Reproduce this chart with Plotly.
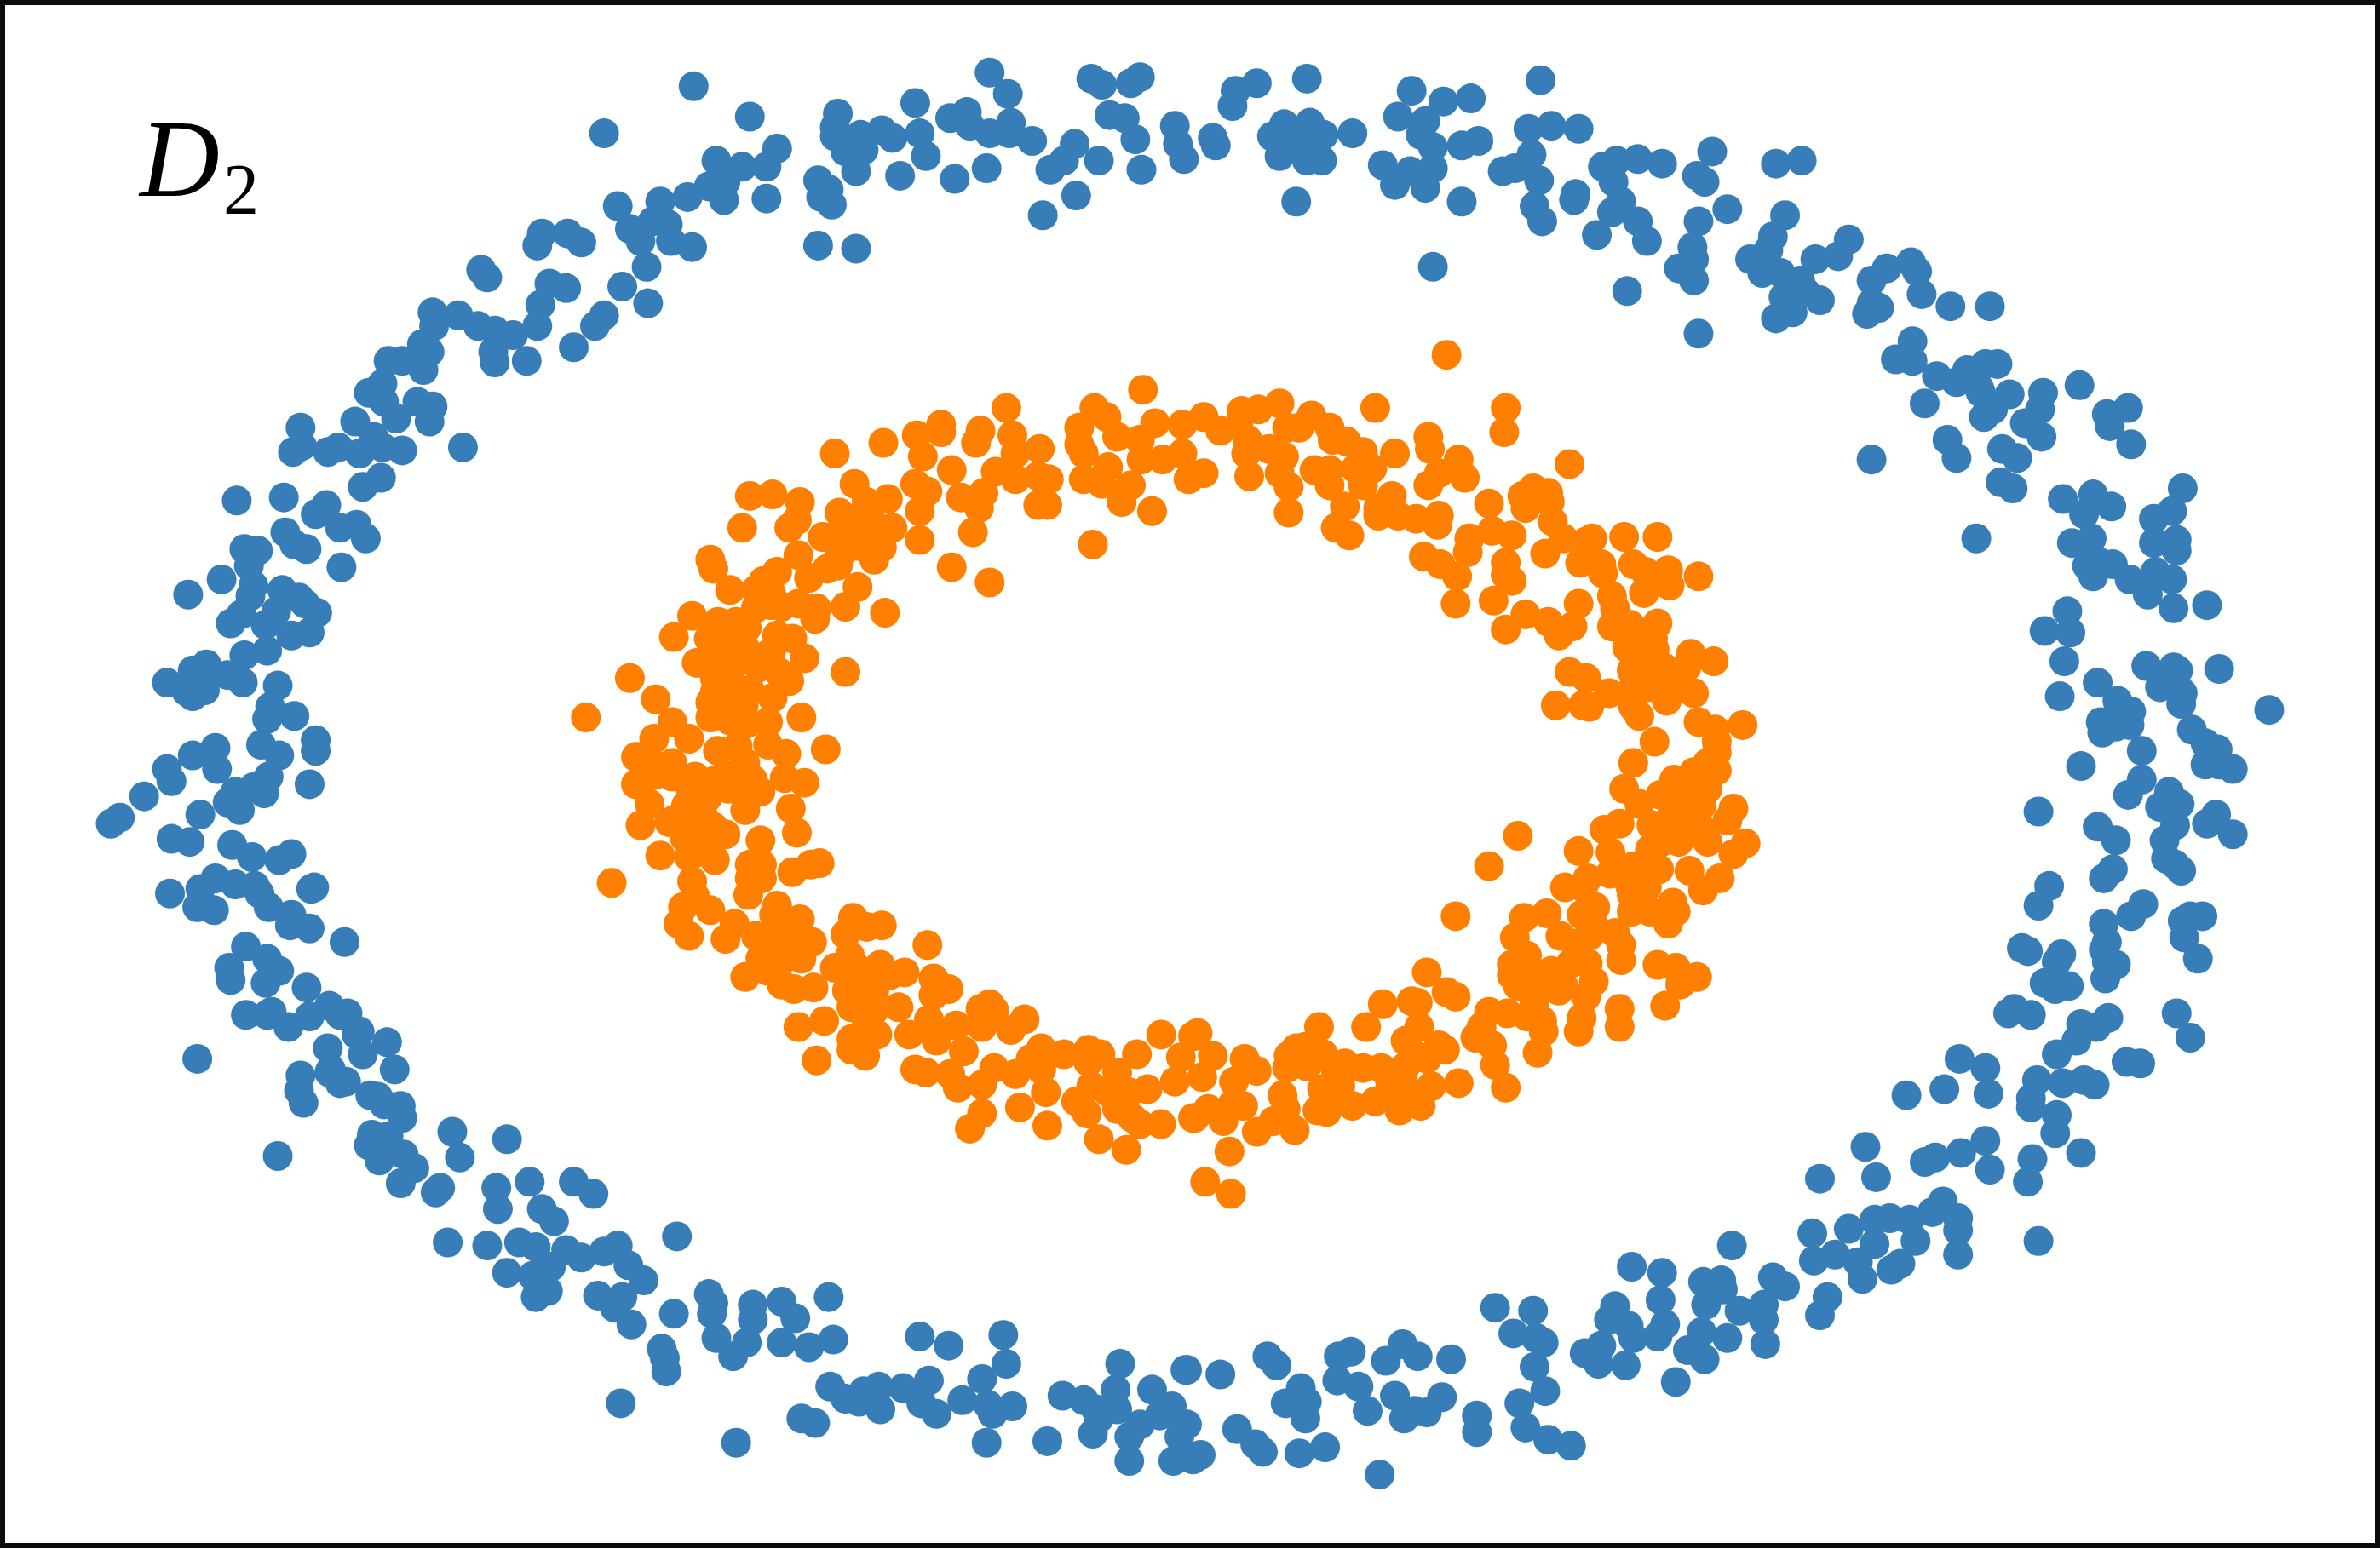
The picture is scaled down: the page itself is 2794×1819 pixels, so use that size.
import plotly.graph_objects as go

# points, in units of the 1568x1021 view (y grows downwards)
blue_points = [
    (457,57),(494,77),(398,88),(552,75),(550,84),(512,98),(505,110),(489,110),(472,106),(467,123),
    (478,120),(477,132),(505,131),(539,119),(546,125),(541,130),(548,135),(453,130),(435,133),(407,136),
    (430,146),(440,148),(415,151),(422,159),(442,159),(456,163),(539,162),(357,154),(354,162),(374,154),
    (383,160),(426,176),(317,178),(321,183),(410,189),(427,200),(362,187),(373,190),(356,201),(398,208),
    (392,215),(354,215),(285,206),(302,208),(286,215),(315,215),(326,218),(338,221),(278,227),(378,229),
    (325,232),(326,239),(347,238),(256,238),(265,238),(283,232),(279,244),(252,253),(243,259),(253,265),
    (275,265),(285,268),(283,278),(261,276),(234,278),(246,288),(198,282),(193,298),(199,294),(216,298),
    (223,295),(237,299),(252,295),(265,297),(305,295),(251,315),(239,321),(156,330),(187,328),(215,333),
    (208,339),(235,346),(224,348),(241,355),(188,351),(161,362),(170,363),(194,359),(202,362),
    (564,164),(652,48),(664,62),(603,68),(567,89),(550,90),(557,100),(569,99),(581,86),(588,91),(564,113),
    (606,88),(610,103),(593,116),(626,78),(637,74),(639,83),(652,88),(666,81),(665,88),(680,93),(629,118),
    (650,111),(708,95),(701,106),(692,112),(724,106),(709,129),(687,142),(719,52),(726,56),(745,55),(751,51),
    (731,76),(741,78),(748,92),(752,112),(774,83),(776,95),(780,105),(799,91),(801,96),(814,60),(828,55),
    (812,70),(861,52),(846,82),(838,90),(863,81),(854,92),(872,89),(843,103),(861,106),(863,101),(871,106),
    (891,88),(854,133),(930,60),(951,67),(969,65),(921,77),(939,80),(936,89),(944,97),(963,96),(974,93),
    (911,109),(929,113),(944,111),(919,122),(939,124),(963,133),(1015,53),(1007,85),(1022,83),(1040,85),
    (1009,102),(990,113),(998,111),(1014,119),(1011,136),(1016,146),(944,176),(1038,128),(1037,132),
    (1056,110),(1065,106),(1063,120),(1062,140),(1052,155),(1079,105),(1095,108),(1128,100),(1170,108),
    (1187,106),(1118,116),(1123,120),(1068,133),(1079,146),(1085,159),(1119,146),(1138,138),(1176,142),
    (1168,156),(1115,163),(1116,171),(1106,177),(1116,185),(1072,192),(1153,171),(1165,165),(1161,180),
    (1173,180),(1186,185),(1175,196),(1190,193),(1199,198),(1181,206),(1170,210),(1196,171),(1211,169),
    (1218,158),(1243,177),(1233,185),(1259,173),(1263,179),(1266,194),(1285,202),(1311,202),(1238,203),
    (1233,200),(1230,207),(1119,220),(1260,225),(1249,237),(1260,238),(1276,248),(1289,252),(1296,244),
    (1308,240),(1316,240),(1304,256),(1305,259),(1324,260),(1346,259),(1370,254),(1344,270),(1307,275),
    (1313,270),(1268,266),(1334,279),(1345,288),(1388,273),(1402,269),(1390,281),(1404,293),(1283,290),
    (1289,302),(1319,296),(1329,302),(1318,318),(1326,322),(1233,303),(1359,329),(1379,326),(1373,339),
    (1391,334),(1438,322),(1419,342),(1431,337),(1302,355),(1365,358),(1378,355),(1419,358),(1434,356),
    (1434,363),(1377,366),(1392,372),(1375,373),(1379,380),(1384,371),(1403,382),(1415,392),(1420,377),
    (1431,382),(1432,401),(1454,399),(1362,403),(1347,416),(1364,417),(1360,436),(1357,459),(1382,450),
    (1395,462),(1404,469),(1384,476),(1385,483),(1394,479),(1403,478),(1411,495),(1371,505),(1414,439),
    (1432,440),(1435,442),(1423,453),(1438,457),(1437,464),(1462,441),(1495,468),(1444,481),(1453,490),
    (1461,494),(1453,504),(1462,504),(1471,507),(1411,514),(1402,524),(1343,535),(1429,522),(1436,530),
    (1423,532),(1433,544),(1426,554),(1460,537),(1454,543),(1471,550),(1382,545),(1394,554),(1392,573),
    (1386,579),(1427,566),(1433,570),(1437,574),(1350,584),(1343,597),(1412,596),(1404,604),(1386,609),
    (1438,607),(1443,604),(1451,604),(1439,618),(1448,632),(1332,625),(1336,627),(1358,629),(1355,634),
    (1388,621),(1386,626),(1388,634),(1394,636),(1387,645),(1347,648),(1354,652),(1363,650),(1323,668),
    (1327,665),(1338,669),(1434,668),(1443,684),(1371,675),(1381,677),(1389,671),(1368,686),(1355,695),
    (1401,700),(1410,701),(1291,698),(1308,704),(1342,712),(1359,714),(1373,712),(1380,715),(1256,722),
    (1281,718),(1310,721),(1338,724),(1338,730),(1355,735),(1354,747),(1371,760),(1339,764),(1336,779),
    (1308,752),(1292,760),(1275,763),(1268,766),(1311,771),(1229,756),(1236,776),(1199,777),(1280,792),
    (1273,799),(1290,803),(1290,811),(1290,827),(1343,818),(1262,818),(1258,804),(1245,803),(1235,804),
    (1218,810),(1194,813),(1235,820),(1209,827),(1195,831),(1224,832),(1252,833),(1246,837),(1227,843),
    (1141,821),(1075,835),(1095,839),(1122,845),(1134,844),(1135,850),(1168,842),(1176,848),(1204,855),
    (1199,867),(985,862),(1010,864),(1064,861),(1094,857),(1124,860),(1162,860),(1146,864),(1162,870),
    (1060,870),(1073,874),(1097,873),(1076,882),(1092,881),(997,879),(1012,882),(1017,885),(1121,878),
    (1138,882),(1163,886),(1112,890),(1123,896),(1044,892),(1055,887),(1053,899),(1071,900),(1011,901),
    (1104,911),(1018,917),(1001,925),(1005,941),(1020,949),(1035,953),(973,933),(973,944),(956,896),
    (934,894),(924,886),(913,897),(890,891),(882,894),(835,894),(841,900),(804,906),(782,903),(881,910),
    (895,914),(857,915),(861,924),(847,925),(860,935),(901,930),(919,920),(950,921),(932,930),(925,935),
    (940,931),(815,942),(827,952),(832,957),(856,958),(873,954),(791,959),(782,939),(909,972),
    (130,698),(216,691),(255,687),(239,695),(235,682),(260,705),(198,709),(217,707),(228,713),(197,719),
    (200,727),(244,722),(253,728),(264,729),(265,737),(245,748),(298,746),(334,751),(256,749),(243,755),
    (266,761),(250,765),(303,763),(273,770),(183,762),(264,780),(290,783),(287,786),(327,783),(349,779),
    (378,779),(391,787),(328,797),(357,797),(365,805),(295,819),(321,821),(342,819),(446,815),(353,822),
    (373,824),(383,829),(407,821),(398,825),(414,834),(424,844),(334,839),(351,841),(363,835),(361,851),
    (353,855),(394,854),(410,855),(405,862),(416,873),(444,866),(467,853),(470,859),(469,866),(496,860),
    (496,870),(515,858),(524,869),(546,855),(472,882),(492,885),(483,894),(515,885),(533,888),(549,883),
    (436,889),(438,895),(439,904),(606,881),(625,887),(661,880),(663,899),(738,899),(781,903),(409,925),
    (547,914),(557,922),(569,917),(579,914),(580,929),(566,924),(595,915),(612,910),(607,925),(617,932),
    (634,923),(647,909),(651,926),(654,932),(667,927),(528,935),(537,938),(485,951),(650,951),(690,950),
    (700,920),(714,923),(722,929),(735,916),(736,929),(724,935),(720,945),(759,916),(744,947),(751,939),
    (744,963),(773,963),(772,927),(764,933),(777,947),(786,962),
    (225,374),(164,373),(146,382),(124,392),(167,386),(165,393),(186,389),(197,394),(201,398),(209,404),
    (182,403),(159,405),(152,411),(175,412),(192,419),(204,417),(176,429),(161,432),(136,438),(127,442),
    (150,445),(160,450),(110,450),(123,456),(127,459),(135,455),(183,452),(178,466),(176,474),(194,472),
    (172,491),(184,498),(208,488),(208,495),(142,493),(127,498),(143,507),(110,507),(113,515),(177,512),
    (167,519),(155,522),(174,523),(204,517),(95,525),(150,529),(158,534),(132,537),(79,539),(73,543),
    (113,553),(125,555),(153,557),(166,565),(184,567),(192,563),(142,579),(132,586),(155,583),(112,589),
    (168,584),(171,589),(207,585),(205,586),(130,598),(141,600),(177,598),(192,603),(191,610),(204,612),
    (227,621),(162,624),(151,638),(152,646),(176,632),(184,640),(175,648),(202,651),(217,663),(229,668),
    (224,669),(179,667),(162,669),(176,669),(190,677),(204,670),(237,680),(218,705),(224,714),(249,723),
]

orange_points = [
    (753,257),(721,269),(729,275),(711,282),(711,293),(714,299),(714,316),(726,319),(730,308),(745,320),
    (739,331),(759,337),(720,359),(761,279),(779,280),(736,288),(751,290),(752,303),(766,303),(779,299),
    (783,316),(663,269),(620,280),(620,285),(604,287),(608,301),(646,284),(643,292),(667,287),(685,296),
    (669,299),(656,311),(669,316),(684,314),(691,316),(684,333),(690,333),(582,292),(550,299),(563,319),
    (627,310),(603,319),(611,324),(633,328),(648,325),(645,335),(641,351),(606,337),(606,356),(585,329),
    (571,331),(553,338),(494,327),(509,326),(527,331),(489,348),(525,343),(520,348),(542,354),(563,346),
    (588,348),(581,361),(576,369),(553,352),(553,367),(526,366),(552,373),(533,381),(512,377),(627,374),
    (652,384),(468,369),(470,375),(481,389),(503,383),(498,389),(508,391),(498,401),(508,399),(526,398),
    (537,408),(538,401),(565,387),(557,400),(583,404),(456,406),(473,410),(444,420),(492,414),(467,421),
    (478,423),(512,419),(522,421),(492,429),(508,430),(530,434),(557,443),(459,437),(471,447),(481,445),
    (513,443),(520,449),(415,447),(432,461),(494,455),(471,456),(509,460),(468,463),(443,476),(468,473),
    (481,475),(492,477),(506,476),(528,473),(431,487),(454,487),(544,494),(419,499),(473,495),(486,492),
    (506,491),(518,497),(443,503),(491,503),(431,504),(386,473),
    (953,234),(793,275),(804,284),(818,271),(829,270),(843,266),(864,274),(876,282),(848,282),(856,282),
    (906,269),(816,281),(822,290),(836,296),(846,301),(821,299),(878,290),(887,291),(898,298),(919,299),
    (866,310),(876,310),(893,309),(904,309),(876,320),(898,320),(823,314),(843,312),(849,321),(849,338),
    (793,312),(886,334),(880,348),(889,353),(992,269),(991,285),(941,288),(942,296),(1034,306),(961,303),
    (948,312),(965,315),(941,320),(917,327),(908,335),(908,340),(921,340),(933,342),(948,340),(947,346),
    (981,332),(1003,327),(1010,322),(1020,325),(1021,331),(1005,335),(1023,344),(968,355),(983,350),
    (996,353),(967,364),(938,367),(949,372),(960,380),(992,371),(992,379),(996,383),(959,398),(984,396),
    (1018,365),(1030,355),(1045,357),(1049,355),(1070,354),(1092,354),(1041,371),(1055,372),(1056,378),
    (1076,372),(1084,377),(1099,376),(1100,386),(1119,380),(1083,391),(1062,393),(1040,398),(1064,401),
    (1005,405),(992,415),(1020,410),(1036,413),(1027,419),(1092,411),(1074,412),(1062,413),(1089,421),
    (1072,427),(1090,428),(1114,431),(1129,436),(1096,440),(1111,440),(1034,443),(1045,447),(1075,442),
    (1060,457),(1025,465),(1043,465),(1047,466),(1074,456),(1086,453),(1098,462),(1116,457),(1080,472),
    (1076,466),(1119,476),(1130,481),(1148,478),(1131,489),(1090,489),(1076,503),(1125,503),(1131,496),
    (419,517),(530,516),(517,513),(431,511),(443,512),(458,512),(478,511),(496,514),(501,522),(486,520),
    (491,534),(521,533),(525,549),(428,530),(422,544),(441,542),(452,531),(466,526),(463,537),(451,552),
    (478,550),(463,554),(501,554),(435,564),(454,565),(471,567),(494,570),(502,570),(502,579),(494,579),
    (493,590),(522,575),(534,570),(540,569),(403,582),(456,581),(458,591),(450,598),(468,600),(447,609),
    (454,617),(512,597),(510,603),(484,609),(478,619),(527,606),(498,617),(516,615),(535,621),(526,625),
    (501,632),(513,636),(528,632),(491,644),(506,640),(515,649),(523,652),(536,651),(562,605),(557,616),
    (571,611),(581,610),(611,623),(550,638),(558,640),(568,640),(580,636),(596,641),(586,643),(558,653),
    (576,653),(592,664),(561,664),(576,666),(543,673),(526,677),(538,699),(578,682),(561,685),(568,685),
    (561,692),(570,696),(615,645),(625,652),(615,656),(652,662),(646,665),(655,666),(675,672),(647,677),
    (666,679),(612,672),(599,682),(630,676),(617,686),(635,693),(603,705),(610,707),(626,708),(631,717),
    (647,715),(655,704),(669,708),(686,691),(679,698),(686,705),(701,695),(717,692),(725,695),(749,695),
    (717,700),(736,707),(689,720),(672,730),(647,734),(639,744),(690,742),(709,726),(719,716),(716,734),
    (724,751),(742,758),(736,731),(746,737),(751,741),(765,741),(756,718),(744,720),(765,682),(778,697),
    (774,713),(786,737),(786,683),
    (789,681),(799,696),(792,710),(820,698),(828,706),(813,713),(796,731),(812,728),(819,729),(787,737),
    (806,739),(828,746),(845,722),(839,739),(847,731),(853,745),(810,759),(794,779),(811,787),(869,677),
    (854,691),(849,696),(866,694),(848,704),(872,695),(861,703),(886,701),(898,704),(910,704),(871,718),
    (883,716),(868,732),(874,733),(891,729),(906,726),(922,732),(936,729),(916,716),(926,703),(943,716),
    (961,714),(900,677),(911,662),(934,661),(930,660),(940,641),(953,654),(959,657),(935,677),(926,686),
    (940,698),(948,689),(952,692),(933,696),(959,604),(981,571),(1000,551),(1040,561),(1067,543),(1057,547),
    (1061,562),(1070,520),(1080,530),(1088,544),(1099,525),(1111,516),(1131,508),(1111,529),(1121,531),
    (1142,533),(1138,541),(1150,556),(1142,563),(1106,555),(1087,560),(1125,555),(1113,574),(1133,579),
    (1122,587),(1076,571),(1093,573),(1061,576),(1046,579),(1031,585),(1043,585),(1074,584),(1075,601),
    (1087,601),(1102,595),(1104,601),(1099,609),(1051,598),(1042,603),(1064,615),(1068,623),(1068,633),
    (1004,605),(1019,602),(998,618),(1028,617),(1038,622),(1047,617),(1046,635),(1006,630),(996,636),
    (1022,640),(996,643),(1008,643),(1050,647),(1045,657),(1092,636),(1104,638),(1118,644),(1107,649),
    (1097,663),(1027,653),(1011,660),(1042,671),(1067,665),(1067,677),(1040,680),(981,667),(993,668),
    (1006,670),(1016,673),(976,677),(972,684),(1017,680),(983,689),(1013,694),(985,702),(992,717),
    (1116,509),(1103,514),(1094,524),(1125,520),(1106,522),
    # inside the solid parts of the ring, where single dots cannot be told apart
    (487,435),(500,440),(480,460),(490,465),(455,520),(470,515),(480,520),(455,540),(470,545),(445,540),
    (505,620),(520,615),(510,630),(565,660),(570,670),(575,645),(560,630),(1100,540),(1110,545),(1120,545),
    (1095,555),(1075,590),(1085,585),(1050,610),(1035,635),(1030,650),(1000,650),(1010,650),(575,345),
    (565,360),(545,375),(515,400),(485,410),(475,435),(1075,430),(1100,450),(1085,440),(875,725),(880,705),
    (915,710),(925,715),(740,725),(730,720),(860,690),
]

blue_x = [p[0] for p in blue_points]
blue_y = [p[1] for p in blue_points]
orange_x = [p[0] for p in orange_points]
orange_y = [p[1] for p in orange_points]

fig = go.Figure()
fig.add_trace(go.Scatter(x=blue_x, y=blue_y, mode="markers", marker=dict(size=35, color="#377eb8", line_width=0)))
fig.add_trace(go.Scatter(x=orange_x, y=orange_y, mode="markers", marker=dict(size=35, color="#ff7f00", line_width=0)))

fig.add_annotation(
    x=90, y=146, xref="x", yref="y", xanchor="left", yanchor="bottom", showarrow=False,
    text="<i>D</i>", font=dict(family="Liberation Serif", size=130, color="black"),
)
fig.add_annotation(
    x=146, y=152, xref="x", yref="y", xanchor="left", yanchor="bottom", showarrow=False,
    text="2", font=dict(family="Liberation Serif", size=84, color="black"),
)

axis = dict(showgrid=False, zeroline=False, showticklabels=False, ticks="", showline=True,
            linecolor="#0c0c0c", linewidth=6, mirror=True)
fig.update_xaxes(range=[3.4, 1564.6], **axis)
fig.update_yaxes(range=[1017.1, 3.5], **axis)
fig.update_layout(
    width=2794,
    height=1819,
    margin=dict(l=6, r=6, t=6, b=7, autoexpand=False),
    plot_bgcolor="white",
    paper_bgcolor="white",
    showlegend=False,
)

fig.write_html("out.html", config=dict(displayModeBar=False),
               post_script="document.body.style.margin='0';")
